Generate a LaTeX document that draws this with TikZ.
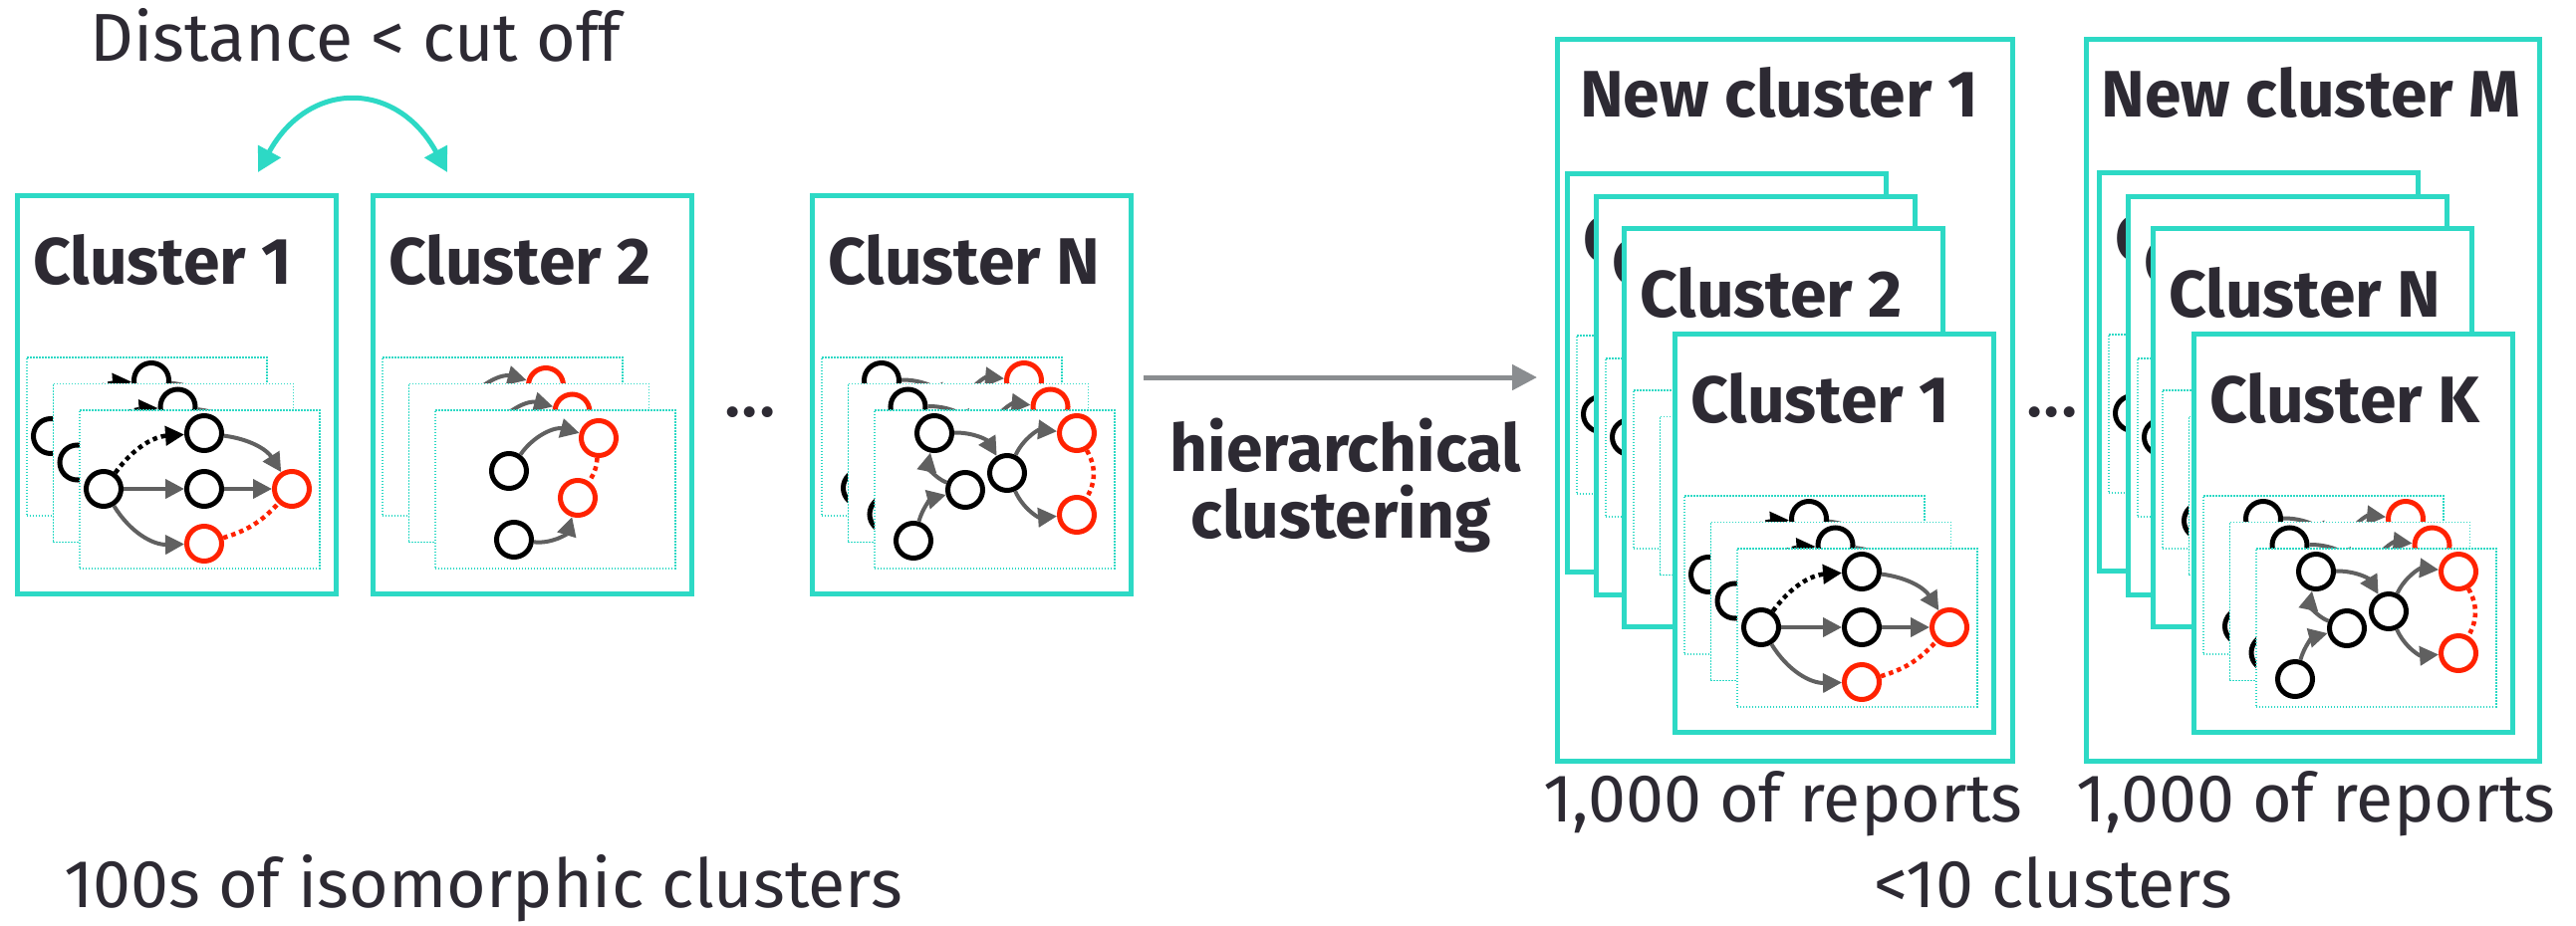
\documentclass[tikz,border=0pt]{standalone}
\usepackage{fontspec}
\setmainfont{Fira Sans}
\usetikzlibrary{arrows.meta}
\definecolor{tealc}{HTML}{2DD9C5}
\definecolor{redn}{HTML}{FF2200}
\definecolor{edgegray}{HTML}{606060}
\definecolor{arrgray}{HTML}{8A8D90}
\definecolor{txt}{HTML}{2D2A33}
\tikzset{
  cbox/.style={draw=tealc, line width=5pt, fill=white, minimum width=320pt, minimum height=400pt, anchor=north west, inner sep=0pt},
  bigbox/.style={draw=tealc, line width=5pt, fill=white, minimum width=457pt, minimum height=725pt, anchor=north west, inner sep=0pt},
  card/.style={draw=tealc, line width=1.5pt, dash pattern=on 1.5pt off 1.5pt, fill=white, minimum width=241pt, minimum height=159pt, anchor=north west, inner sep=0pt},
  gn/.style={circle, draw=black, fill=white, line width=5pt, minimum size=35pt, inner sep=0pt},
  rn/.style={gn, draw=redn},
  ge/.style={draw=edgegray, line width=4pt, -{Triangle[length=19pt,width=19pt]}},
  be/.style={draw=black, line width=4.5pt, dash pattern=on 4.5pt off 4pt, -{Triangle[length=19pt,width=19pt]}},
  re/.style={draw=redn, line width=4.5pt, dash pattern=on 4.5pt off 4pt},
  ctitle/.style={anchor=base west, text=txt, font=\fontsize{66pt}{67pt}\selectfont\bfseries, inner sep=0pt},
  btitle/.style={anchor=base, text=txt, font=\fontsize{66pt}{67pt}\selectfont\bfseries, inner sep=0pt},
  lbl/.style={anchor=base, text=txt, font=\fontsize{68pt}{69pt}\selectfont, inner sep=0pt},
  blbl/.style={anchor=base, text=txt, font=\fontsize{66pt}{67pt}\selectfont\bfseries, inner sep=0pt},
  dotsl/.style={text=txt, font=\fontsize{60pt}{61pt}\selectfont\bfseries, inner sep=0pt},
  tealarrow/.style={draw=tealc, line width=5pt, {Triangle[length=24pt,width=25pt]}-{Triangle[length=24pt,width=25pt]}},
  grayarrow/.style={draw=arrgray, line width=5pt, -{Triangle[length=25pt,width=25pt]}},
}
\newcommand{\gOne}[1]{%
  \node[gn] (#1a) at (25,-80) {};
  \node[gn] (#1b) at (126,-24) {};
  \node[gn] (#1c) at (126,-80) {};
  \node[rn] (#1d) at (214,-80) {};
  \node[rn] (#1e) at (126,-135) {};
  \draw[be] (#1a) to[bend left=25] (#1b);
  \draw[ge] (#1b) to[bend left=25] (#1d);
  \draw[ge] (#1a) -- (#1c);
  \draw[ge] (#1c) -- (#1d);
  \draw[ge] (#1a) to[bend right=30] (#1e);
  \draw[re] (#1e) to[bend right=15] (#1d);
}
\newcommand{\gTwo}[1]{%
  \node[gn] (#1p) at (75,-62) {};
  \node[gn] (#1q) at (80,-131) {};
  \node[rn] (#1r) at (165,-29) {};
  \node[rn] (#1s) at (144,-89) {};
  \draw[ge] (#1p) to[bend left=35] (#1r);
  \draw[ge] (#1q) to[bend right=40] (#1s);
  \draw[re] (#1r) to[bend left=15] (#1s);
}
\newcommand{\gN}[1]{%
  \node[gn] (#1a) at (61,-24) {};
  \node[gn] (#1b) at (92,-81) {};
  \node[gn] (#1c) at (40,-132) {};
  \node[gn] (#1d) at (134,-64) {};
  \node[rn] (#1e) at (204,-24) {};
  \node[rn] (#1f) at (204,-106) {};
  \draw[ge] (#1c) to[bend left=30] (#1b);
  \draw[ge] (#1b) to[bend left=40] (#1a);
  \draw[ge] (#1a) to[bend left=30] (#1d);
  \draw[ge] (#1d) to[bend left=35] (#1e);
  \draw[ge] (#1d) to[bend right=35] (#1f);
  \draw[re] (#1e) to[bend left=30] (#1f);
}
\newcommand{\clbox}[5]{%
  \node[cbox] (#1) at (#2,-#3) {};
  \node[ctitle] (#1t) at (#2+18,-#3-91) {#4};
  \begin{scope}[shift={(#2+11,-#3-164)}]
    \node[card] (#1k1) at (0,0) {};
    #5{#1k1}
  \end{scope}
  \begin{scope}[shift={(#2+37.5,-#3-190.5)}]
    \node[card] (#1k2) at (0,0) {};
    #5{#1k2}
  \end{scope}
  \begin{scope}[shift={(#2+64,-#3-217)}]
    \node[card] (#1k3) at (0,0) {};
    #5{#1k3}
  \end{scope}
}
\begin{document}
\begin{tikzpicture}[x=1pt,y=1pt]
  \path[use as bounding box, fill=white] (0,0) rectangle (2586,-929);
  % top label and double arrow
  \node[lbl] (dist) at (357,-61) {Distance < cut off};
  % left clusters
  \clbox{ca}{15}{194}{Cluster 1}{\gOne}
  \clbox{cb}{372}{194}{Cluster 2}{\gTwo}
  \clbox{cn}{813}{194}{Cluster N}{\gN}
  \coordinate (dL) at (259,-173);
  \coordinate (dR) at (449,-173);
  \draw[tealarrow] (dL) .. controls (310,-80) and (398,-80) .. (dR);
  \node[dotsl] (dots1) at (753,-414) {.\kern3pt.\kern3pt.};
  % hierarchical clustering arrow
  \coordinate (hs) at (1148,-379);
  \coordinate (he) at (1543,-379);
  \draw[grayarrow] (hs) -- (he);
  \node[blbl] (hier) at (1351,-473) {hierarchical};
  \node[blbl] (clus) at (1346,-540) {clustering};
  % new cluster 1
  \node[bigbox] (nc1) at (1561,-37) {};
  \node[btitle] (nc1t) at (1786,-117) {New cluster 1};
  \clbox{nia}{1571}{172}{C}{\gOne}
  \clbox{nib}{1600}{195}{C}{\gOne}
  \clbox{nic}{1628}{227}{Cluster 2}{\gTwo}
  \clbox{nid}{1679}{333}{Cluster 1}{\gOne}
  \node[dotsl] (dots2) at (2060,-414) {.\kern3pt.\kern3pt.};
  % new cluster M
  \node[bigbox, minimum width=455pt] (ncm) at (2092,-37) {};
  \node[btitle] (ncmt) at (2320,-117) {New cluster M};
  \clbox{nma}{2105}{171}{C}{\gOne}
  \clbox{nmb}{2134}{195}{C}{\gOne}
  \clbox{nmc}{2159}{227}{Cluster N}{\gN}
  \clbox{nmd}{2200}{333}{Cluster K}{\gN}
  % bottom labels
  \node[lbl] (rep1) at (1790,-825) {1,000 of reports};
  \node[lbl] (rep2) at (2325,-825) {1,000 of reports};
  \node[lbl] (iso) at (485,-911) {100s of isomorphic clusters};
  \node[lbl] (lt10) at (2061,-911) {<10 clusters};
\end{tikzpicture}
\end{document}
